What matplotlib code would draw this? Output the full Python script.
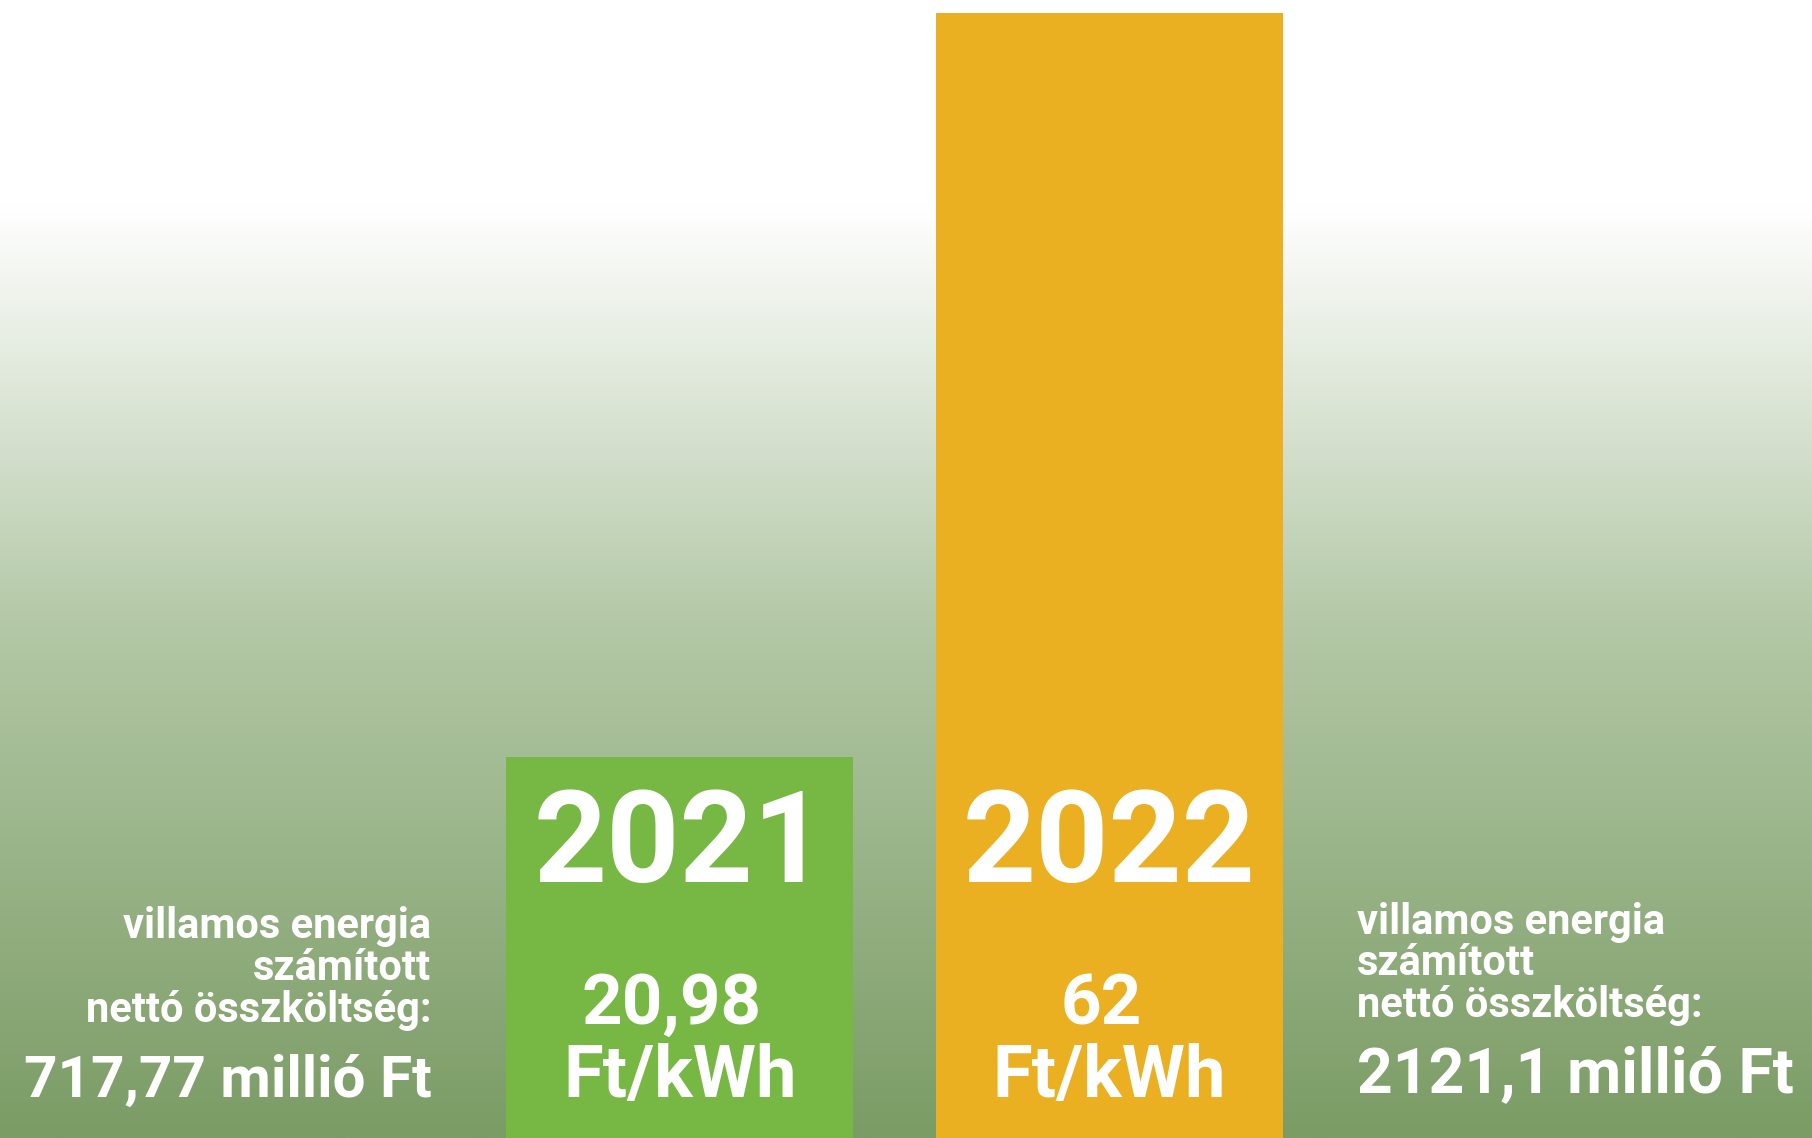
import numpy as np
import matplotlib.pyplot as plt
from matplotlib.colors import LinearSegmentedColormap

years = ["2021", "2022"]
prices = [20.98, 62]
price_labels = ["20,98", "62"]
unit = "Ft/kWh"
cost_caption = "villamos energia\nszámított\nnettó összköltség:"
totals = ["717,77 millió Ft", "2121,1 millió Ft"]
bar_colors = ["#76b843", "#ebaf22"]

plt.rcParams['font.family'] = ['Roboto', 'DejaVu Sans']

fig = plt.figure(figsize=(18.12, 11.38), dpi=100)
ax = fig.add_axes([0, 0, 1, 1])

x = np.arange(len(years))
xlim = (-1.583, 2.636)
ylim = (0, 62.72)

# background: white on top fading to green at the bottom
bg = LinearSegmentedColormap.from_list(
    "bg", [(0, "#7b9c65"), (0.45, "#b3c8a6"), (0.82, "#ffffff"), (1, "#ffffff")])
grad = np.linspace(0, 1, 512).reshape(-1, 1)
ax.imshow(grad, cmap=bg, aspect="auto", origin="lower",
          extent=[xlim[0], xlim[1], ylim[0], ylim[1]], zorder=0)

ax.bar(x, prices, width=0.808, color=bar_colors, zorder=2)
ax.set_xlim(xlim)
ax.set_ylim(ylim)
ax.axis("off")

tr = ax.get_xaxis_transform()
for i in range(len(years)):
    ax.text(x[i], 0.256, years[i], transform=tr, ha="center", va="center",
            color="white", fontsize=92, fontweight="bold", zorder=3)
    ax.text(x[i] - 0.02, 0.117, price_labels[i], transform=tr, ha="center",
            va="center", color="white", fontsize=51, fontweight="bold", zorder=3)
    ax.text(x[i], 0.053, unit, transform=tr, ha="center", va="center",
            color="white", fontsize=52, fontweight="bold", zorder=3)

# side captions
ax.text(0.238, 0.149, cost_caption, transform=ax.transAxes, ha="right",
        va="center", multialignment="right", color="white", fontsize=30,
        fontweight="bold", linespacing=1.02)
ax.text(0.238, 0.05, totals[0], transform=ax.transAxes, ha="right",
        va="center", color="white", fontsize=42, fontweight="bold")
ax.text(0.749, 0.153, cost_caption, transform=ax.transAxes, ha="left",
        va="center", multialignment="left", color="white", fontsize=30,
        fontweight="bold", linespacing=1.02)
ax.text(0.749, 0.055, totals[1], transform=ax.transAxes, ha="left",
        va="center", color="white", fontsize=45, fontweight="bold")

fig.savefig("out.png", dpi=100)
